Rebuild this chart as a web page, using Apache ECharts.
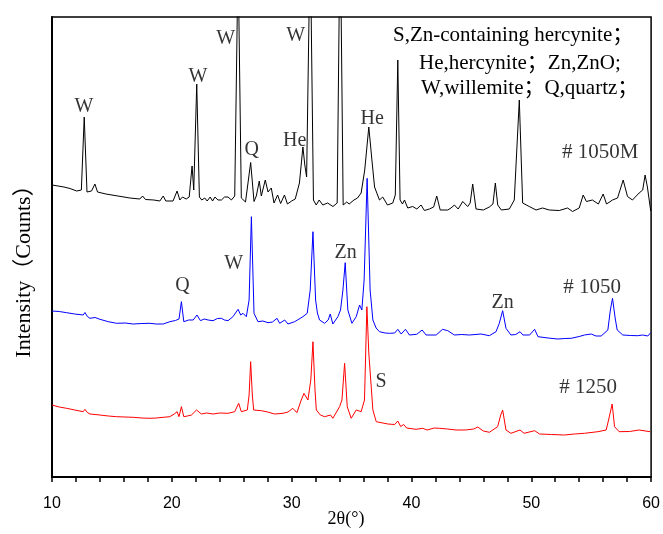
<!DOCTYPE html>
<html lang="zh-CN">
<head>
<meta charset="utf-8">
<style>
  html, body { margin: 0; padding: 0; background: #fff; }
  #chart { width: 663px; height: 534px; }
</style>
<script src="https://cdn.jsdelivr.net/npm/echarts@6/dist/echarts.min.js"></script>
</head>
<body>
<div id="chart"></div>
<script>
// XRD patterns, [2θ (°), stacked intensity (a.u.)]
const trace1050M = [
  [10.0,292],[10.5,291],[11.0,290],[11.5,288.5],[12.06,286],[12.45,287],[12.69,360],[12.92,285],
  [13.3,286],[13.58,293],[13.8,285],[14.5,283],[15.5,281],[16.5,279],[17.33,278],[17.56,281],
  [17.8,277.5],[18.5,277],[19.0,276],[19.28,281],[19.5,276],[20.1,276],[20.44,286],[20.67,277],
  [20.89,280],[21.2,278],[21.45,280],[21.69,311],[21.83,287],[22.08,393],[22.3,280],[22.5,277],
  [22.75,279],[22.95,276],[23.2,280],[23.4,276],[23.6,280],[23.85,277],[24.14,277],[24.4,280],
  [24.69,280],[24.97,277],[25.25,281],[25.53,520],[25.8,279],[26.15,275],[26.58,314.5],[26.86,275.5],
  [27.05,281],[27.3,296],[27.47,281],[27.8,297],[28.03,285],[28.3,289],[28.53,274],[28.83,282],
  [29.08,273.5],[29.4,282],[29.65,273],[30.0,276],[30.3,278],[30.65,294],[30.94,330],[31.1,312],
  [31.25,300],[31.55,540],[31.82,277],[32.05,272],[32.3,277],[32.6,272],[33.0,274],[33.45,270.5],
  [33.8,274],[34.05,560],[34.3,272],[34.6,275],[34.8,273],[35.2,277],[35.5,279],[35.8,284],
  [36.1,307],[36.44,350],[36.7,317],[36.92,290],[37.33,277],[37.6,280],[38.0,272],[38.44,274],
  [38.65,282],[38.86,417],[39.05,277],[39.25,273],[39.42,277],[39.69,269],[40.1,270.5],[40.45,268],
  [40.8,272],[41.08,266.5],[41.5,268],[41.85,270],[42.11,281],[42.4,267],[43.03,267],[43.3,269],
  [43.58,272],[43.9,268],[44.28,275.5],[44.69,270.5],[44.9,274],[45.11,293],[45.39,268],[46.0,267],
  [46.5,270],[46.8,273],[47.0,294],[47.2,272],[47.5,267],[48.17,268],[48.58,277],[49.0,377],
  [49.28,274],[49.83,270.5],[50.4,267],[50.94,269],[51.5,267],[52.33,266.5],[53.03,269],[53.44,265.5],
  [54.0,269],[54.33,282],[54.6,275.5],[55.1,277],[55.6,273],[56.0,283],[56.28,273],[56.78,277],
  [57.2,279],[57.67,297],[58.03,280.5],[58.44,277],[59.0,284],[59.3,287],[59.5,302],[59.69,290],
  [59.97,266]
];

const trace1050 = [
  [10.0,166],[10.6,165.5],[11.22,164.3],[11.9,163],[12.6,162],[12.75,164.5],[12.95,160.5],[13.17,158.7],
  [13.6,159.5],[14.0,157.7],[14.7,155.3],[15.4,153.7],[16.1,154],[16.78,153],[17.5,153.5],[18.17,153.7],
  [18.7,153],[19.28,153],[19.83,155.3],[20.3,156.5],[20.6,158],[20.8,175.3],[21.0,155.3],[21.4,157],
  [21.78,157],[22.1,162],[22.39,156.3],[22.7,158],[23.03,157],[23.44,156.3],[23.8,158.5],[24.14,158.7],
  [24.4,157],[24.69,156.3],[25.1,160.3],[25.53,167.7],[25.75,162],[25.94,163.7],[26.22,160.3],[26.45,177],
  [26.64,260.3],[26.86,163.7],[27.19,155.3],[27.6,156],[28.03,154.3],[28.4,155],[28.78,158.7],[29.0,153.7],
  [29.42,157],[29.69,153],[30.25,155.3],[30.94,160.3],[31.3,163.7],[31.55,187],[31.78,245.3],[32.0,177],
  [32.15,164],[32.33,157],[32.75,153.7],[33.05,157],[33.22,163],[33.44,153],[33.86,160.3],[34.08,167],
  [34.28,187],[34.47,214.3],[34.69,167],[35.03,153.7],[35.39,160.3],[35.67,172],[35.86,167],[36.05,197],
  [36.3,298.7],[36.55,187],[36.78,157],[37.05,149],[37.33,145.3],[37.8,144],[38.17,143.7],[38.6,144],
  [38.86,147.7],[39.14,143],[39.5,147.7],[39.83,142],[40.44,142.7],[40.89,147],[41.22,142],[42.06,142],
  [42.6,147.7],[43.03,146.3],[43.58,142],[44.2,142.5],[44.83,142],[45.8,143],[46.5,141.3],[47.06,145.3],
  [47.33,153.7],[47.61,166.3],[47.89,148.7],[48.3,142],[48.7,142.5],[49.06,145.3],[49.3,142],[49.86,142],
  [50.28,147.7],[50.56,140.3],[51.4,139],[52.22,138],[52.8,138.5],[53.33,138.7],[54.0,140.5],[54.44,142],
  [55.0,143],[55.4,141],[55.83,141],[56.39,147],[56.6,167],[56.78,178.7],[57.0,159],[57.17,147],
  [57.64,142],[58.3,141.5],[58.89,141.3],[59.3,142],[59.72,141],[59.97,144.3]
];

const trace1250 = [
  [10.0,72],[10.6,70],[11.22,68.7],[11.9,67],[12.6,65.3],[12.75,67.7],[12.95,64.5],[13.17,63],
  [14.0,62],[14.7,61],[15.4,60.3],[16.1,60],[16.78,59.7],[17.5,59],[18.17,58.7],[18.7,59],
  [19.28,59.7],[19.83,60.3],[20.2,63],[20.44,65.3],[20.6,60.3],[20.8,70.3],[21.0,60.3],[21.3,61],
  [21.64,62],[22.06,67],[22.47,63],[22.9,64],[23.44,63],[24.0,64],[24.69,63.7],[25.25,65.3],
  [25.58,73.7],[25.8,65.3],[26.3,67],[26.45,82],[26.58,115.3],[26.72,82],[26.83,67],[27.47,66.3],
  [28.0,65],[28.58,63],[29.28,63.7],[29.7,65],[30.1,68.7],[30.44,64.3],[30.8,77],[31.03,83.7],
  [31.36,77],[31.6,97],[31.78,135.3],[31.95,87],[32.06,67],[32.4,62],[32.75,60.3],[33.25,62],
  [33.44,58.7],[34.0,70.3],[34.2,77],[34.42,113.7],[34.64,70.3],[34.97,58.7],[35.39,67],[35.8,65.3],
  [36.08,77],[36.28,170.3],[36.44,124],[36.6,97],[36.78,67],[37.06,55.3],[38.03,53],[38.6,52.5],
  [38.86,56],[39.1,50.5],[39.35,52.5],[39.6,49],[40.39,47.7],[40.94,48.7],[41.3,47],[41.9,49],
  [42.33,48.7],[43.0,48],[43.72,47],[44.5,47],[45.2,48],[45.53,50],[46.0,46],[46.5,44.7],
  [47.19,50.3],[47.45,62],[47.61,67],[47.75,57],[47.89,47],[48.3,43.7],[49.06,47],[49.4,43.7],
  [50.28,46.3],[50.69,43],[51.7,42.5],[52.78,42],[53.6,43],[54.44,43.7],[55.56,45.3],[56.25,47],
  [56.45,57],[56.75,73],[56.95,50.3],[57.33,45.3],[58.2,45.5],[59.0,47],[59.92,45.3]
];

// phase marks above peaks: [2θ, intensity, text]
const peakLabels = [
  [12.67, 370, 'W'], [22.17, 400, 'W'], [24.5, 438, 'W'], [30.33, 441, 'W'],
  [26.67, 327, 'Q'], [30.25, 336, 'He'], [36.72, 358, 'He'],
  [20.89, 191, 'Q'], [25.17, 213, 'W'], [34.5, 224, 'Zn'], [47.61, 174, 'Zn'],
  [37.47, 95, 'S']
];

// sample names at the right of each pattern: [2θ, intensity, text]
const sampleNames = [
  [52.56, 325, '# 1050M'],
  [52.67, 190, '# 1050'],
  [52.33, 90, '# 1250']
];

// phase key, one line each
const phaseKey = [
  'S,Zn-containing hercynite；',
  'He,hercynite；Zn,ZnO;',
  'W,willemite；Q,quartz；'
];
const phaseKeyLeft = [393, 419, 421];
const phaseKeyTop = [35, 63, 88];

const serif = '"Liberation Serif", "Noto Sans CJK SC", serif';
const chart = echarts.init(document.getElementById('chart'));

const textItems = (rows, align) => rows.map(r => ({
  value: [r[0], r[1]],
  label: { formatter: r[2], align: align }
}));

chart.setOption({
  animation: false,
  backgroundColor: '#fff',
  grid: {
    left: 52, right: 11, top: 17, bottom: 57,
    show: true, borderColor: '#000', borderWidth: 1.5
  },
  xAxis: {
    type: 'value', min: 10, max: 60, interval: 10,
    axisLine: { show: true, onZero: false, lineStyle: { color: '#000', width: 2 } },
    axisTick: { show: true, inside: false, length: 5, lineStyle: { color: '#000', width: 1.5 } },
    minorTick: { show: true, splitNumber: 5, length: 5, lineStyle: { color: '#000', width: 1.5 } },
    axisLabel: { fontFamily: '"Liberation Sans", Arial, sans-serif', fontSize: 16, color: '#000', margin: 19 },
    splitLine: { show: false }
  },
  yAxis: {
    type: 'value', min: 0, max: 460,
    axisLine: { show: true, lineStyle: { color: '#000', width: 2 } },
    axisTick: { show: false },
    axisLabel: { show: false },
    splitLine: { show: false }
  },
  graphic: [
    {
      type: 'text', x: 24, y: 266, rotation: Math.PI / 2,
      style: {
        text: 'Intensity（Counts）', fill: '#000',
        fontFamily: serif, fontSize: 22,
        align: 'center', verticalAlign: 'middle'
      }
    },
    {
      type: 'text', x: 346, y: 519,
      style: {
        text: '2θ(°)', fill: '#000',
        fontFamily: serif, fontSize: 18,
        align: 'center', verticalAlign: 'middle'
      }
    }
  ].concat(phaseKey.map((t, i) => ({
    type: 'text', x: phaseKeyLeft[i], y: phaseKeyTop[i],
    style: {
      text: t, fill: '#000', fontFamily: serif, fontSize: 21,
      align: 'left', verticalAlign: 'middle'
    }
  }))),
  series: [
    {
      name: '# 1250', type: 'line', data: trace1250, showSymbol: false, symbol: 'none',
      lineStyle: { color: '#ff0000', width: 1 }, clip: true
    },
    {
      name: '# 1050', type: 'line', data: trace1050, showSymbol: false, symbol: 'none',
      lineStyle: { color: '#0000ff', width: 1 }, clip: true
    },
    {
      name: '# 1050M', type: 'line', data: trace1050M, showSymbol: false, symbol: 'none',
      lineStyle: { color: '#000000', width: 1 }, clip: true
    },
    {
      type: 'scatter', silent: true, symbolSize: 1,
      itemStyle: { color: 'rgba(0,0,0,0)' },
      label: {
        show: true, position: 'inside', color: '#000',
        fontFamily: serif, fontSize: 20, verticalAlign: 'middle'
      },
      data: textItems(peakLabels, 'center')
    },
    {
      type: 'scatter', silent: true, symbolSize: 1,
      itemStyle: { color: 'rgba(0,0,0,0)' },
      label: {
        show: true, position: 'inside', color: '#000',
        fontFamily: serif, fontSize: 21, verticalAlign: 'middle'
      },
      data: textItems(sampleNames, 'left')
    }
  ]
});
</script>
</body>
</html>
